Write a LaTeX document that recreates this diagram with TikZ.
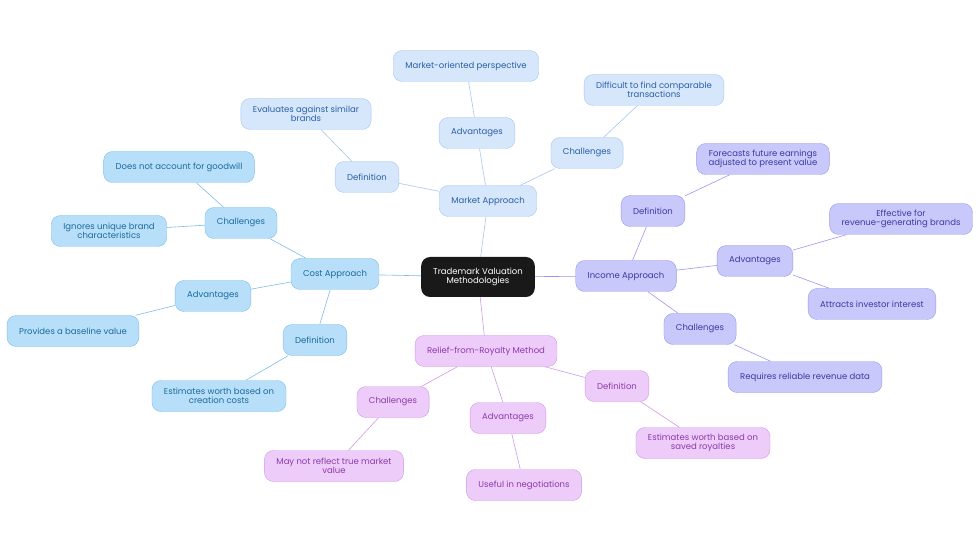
\documentclass[tikz,border=0pt]{standalone}
\usepackage{fontspec}
\setmainfont{Poppins}
\definecolor{mktfill}{HTML}{D6E6FB}\definecolor{mktdraw}{HTML}{A6C6EF}\definecolor{mkttext}{HTML}{2B5FA6}
\definecolor{cstfill}{HTML}{B8DFF9}\definecolor{cstdraw}{HTML}{7DBDEB}\definecolor{csttext}{HTML}{1B6A9C}
\definecolor{incfill}{HTML}{C9C8FB}\definecolor{incdraw}{HTML}{9A97EC}\definecolor{inctext}{HTML}{3B39A0}
\definecolor{relfill}{HTML}{EECCFA}\definecolor{reldraw}{HTML}{CF98E8}\definecolor{reltext}{HTML}{8B3AA6}
\tikzset{
  box/.style={rounded corners=9pt, align=center, inner xsep=12pt, minimum height=31pt,
    font=\fontsize{8.5}{9.5}\selectfont},
  mkt/.style={box, fill=mktfill, draw=mktdraw, text=mkttext},
  cst/.style={box, fill=cstfill, draw=cstdraw, text=csttext},
  inc/.style={box, fill=incfill, draw=incdraw, text=inctext},
  rel/.style={box, fill=relfill, draw=reldraw, text=reltext},
  mktl/.style={draw=mktdraw, semithick}, cstl/.style={draw=cstdraw, semithick},
  incl/.style={draw=incdraw, semithick}, rell/.style={draw=reldraw, semithick},
}
\begin{document}
\begin{tikzpicture}[x=1pt,y=-1pt]
  \useasboundingbox (0,0) rectangle (980,553);
  % root
  \node[box, fill=black!90, text=white, minimum height=40pt] (root) at (478,277) {Trademark Valuation\\Methodologies};
  % market
  \node[mkt] (mkt) at (488,201) {Market Approach};
  \node[mkt] (mktadv) at (477,133) {Advantages};
  \node[mkt] (mktadvt) at (466,66) {Market-oriented perspective};
  \node[mkt] (mktdef) at (367,177) {Definition};
  \node[mkt] (mktdeft) at (306,114) {Evaluates against similar\\brands};
  \node[mkt] (mktch) at (587,153) {Challenges};
  \node[mkt] (mktcht) at (654,90) {Difficult to find comparable\\transactions};
  % cost
  \node[cst] (cst) at (335,274) {Cost Approach};
  \node[cst] (cstch) at (241,223) {Challenges};
  \node[cst] (cstch1) at (179,167) {Does not account for goodwill};
  \node[cst] (cstch2) at (109,231) {Ignores unique brand\\characteristics};
  \node[cst] (cstadv) at (213,296) {Advantages};
  \node[cst] (cstadvt) at (73,331) {Provides a baseline value};
  \node[cst] (cstdef) at (315,340) {Definition};
  \node[cst] (cstdeft) at (219,396) {Estimates worth based on\\creation costs};
  % income
  \node[inc] (inc) at (626,276) {Income Approach};
  \node[inc] (incdef) at (653,211) {Definition};
  \node[inc] (incdeft) at (763,159) {Forecasts future earnings\\adjusted to present value};
  \node[inc] (incadv) at (755,261) {Advantages};
  \node[inc] (incadv1) at (901,219) {Effective for\\revenue-generating brands};
  \node[inc] (incadv2) at (872,304) {Attracts investor interest};
  \node[inc] (incch) at (700,329) {Challenges};
  \node[inc] (inccht) at (805,377) {Requires reliable revenue data};
  % relief
  \node[rel] (rel) at (486,351) {Relief-from-Royalty Method};
  \node[rel] (relch) at (393,402) {Challenges};
  \node[rel] (relcht) at (334,466) {May not reflect true market\\value};
  \node[rel] (reladv) at (508,418) {Advantages};
  \node[rel] (reladvt) at (524,485) {Useful in negotiations};
  \node[rel] (reldef) at (617,386) {Definition};
  \node[rel] (reldeft) at (703,443) {Estimates worth based on\\saved royalties};
  % connectors
  \draw[mktl] (root) -- (mkt);
  \draw[mktl] (mkt) -- (mktadv) -- (mktadvt);
  \draw[mktl] (mkt) -- (mktdef) -- (mktdeft);
  \draw[mktl] (mkt) -- (mktch) -- (mktcht);
  \draw[cstl] (root) -- (cst);
  \draw[cstl] (cst) -- (cstch) -- (cstch1);
  \draw[cstl] (cstch) -- (cstch2);
  \draw[cstl] (cst) -- (cstadv) -- (cstadvt);
  \draw[cstl] (cst) -- (cstdef) -- (cstdeft);
  \draw[incl] (root) -- (inc);
  \draw[incl] (inc) -- (incdef) -- (incdeft);
  \draw[incl] (inc) -- (incadv) -- (incadv1);
  \draw[incl] (incadv) -- (incadv2);
  \draw[incl] (inc) -- (incch) -- (inccht);
  \draw[rell] (root) -- (rel);
  \draw[rell] (rel) -- (relch) -- (relcht);
  \draw[rell] (rel) -- (reladv) -- (reladvt);
  \draw[rell] (rel) -- (reldef) -- (reldeft);
\end{tikzpicture}
\end{document}
